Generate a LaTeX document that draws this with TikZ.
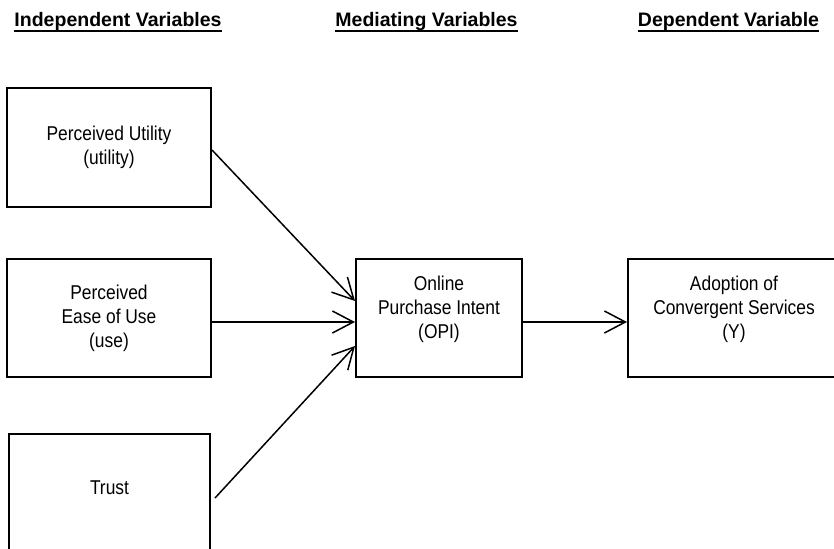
\documentclass[tikz,border=0pt]{standalone}
\usepackage{fontspec}
\setmainfont{Liberation Sans}[FakeStretch=0.87]
\newfontfamily\headfont{Liberation Sans}
\usetikzlibrary{arrows.meta}
\newcommand{\ulhead}[1]{\setbox0\hbox{#1}\rlap{\rule[-1.5mm]{\wd0}{0.6mm}}\box0}
\tikzset{
  varbox/.style={draw, line width=0.6mm, inner sep=0pt, align=center,
    font=\fontsize{17.07pt}{20.5pt}\selectfont, minimum height=35.4mm},
  raised/.style={text height=38pt, text depth=3.6pt},
  flow/.style={-{Straight Barb[length=6.3mm,width=6.6mm]}, line width=0.45mm},
  heading/.style={anchor=base, font=\headfont\bfseries\fontsize{16.65pt}{20pt}\selectfont}
}
\begin{document}
\begin{tikzpicture}[x=0.3mm,y=-0.3mm]
  \clip (0,0) rectangle (834,549);
  % column titles
  \node[heading] (hind) at (118,27) {\ulhead{Independent Variables}};
  \node[heading] (hmed) at (426.5,27) {\ulhead{Mediating Variables}};
  \node[heading] (hdep) at (728.5,27) {\ulhead{Dependent Variable}};
  % boxes
  \node[varbox, minimum width=61.2mm] (utility) at (109,147.5) {Perceived Utility\\(utility)};
  \node[varbox, minimum width=61.2mm] (use) at (109,318) {Perceived\\Ease of Use\\(use)};
  \node[varbox, minimum width=60.3mm, text height=12.2pt, text depth=10.2pt] (trust) at (109.5,493) {Trust};
  \node[varbox, raised, minimum width=49.8mm] (opi) at (439,318) {Online\\Purchase Intent\\(OPI)};
  \node[varbox, raised, minimum width=63.6mm] (adopt) at (734,318) {Adoption of\\Convergent Services\\(Y)};
  % paths
  \draw[flow] ([yshift=-0.75mm]utility.east) -- ([yshift=5.1mm]opi.west);
  \draw[flow] ([yshift=-1.2mm]use.east) -- ([yshift=-1.2mm]opi.west);
  \draw[flow] ([xshift=1.2mm,yshift=-1.5mm]trust.east) -- ([yshift=-8.4mm]opi.west);
  \draw[flow] ([yshift=-1.2mm]opi.east) -- ([yshift=-1.2mm]adopt.west);
\end{tikzpicture}
\end{document}
